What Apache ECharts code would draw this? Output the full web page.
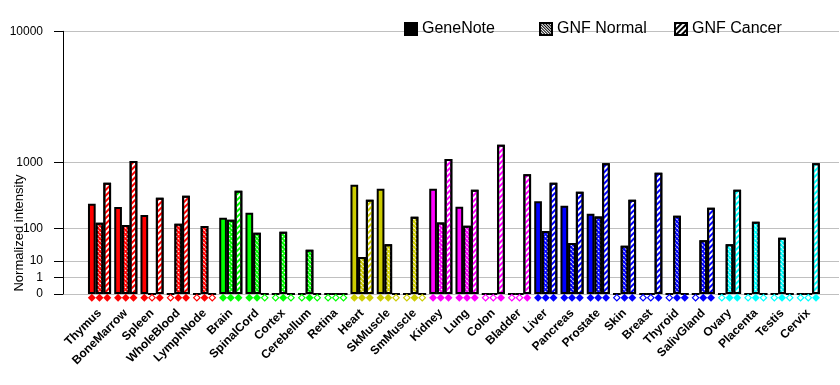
<!DOCTYPE html>
<html><head><meta charset="utf-8">
<script src="https://cdn.jsdelivr.net/npm/echarts@6/dist/echarts.min.js"></script>
<style>html,body{margin:0;padding:0;background:#fff}#c{width:840px;height:385px}</style>
</head><body><div id="c"></div>
<script>
// ---------- data ----------
const categories = ['Thymus','BoneMarrow','Spleen','WholeBlood','LymphNode','Brain','SpinalCord','Cortex','Cerebellum','Retina','Heart','SkMuscle','SmMuscle','Kidney','Lung','Colon','Bladder','Liver','Pancreas','Prostate','Skin','Breast','Thyroid','SalivGland','Ovary','Placenta','Testis','Cervix'];
const geneNote  = [287,254,184,0,0,164,203,0,0,0,542,479,0,479,257,0,0,316,267,195,0,0,0,0,0,0,0,0];
const gnfNormal = [131,118,0,125,112,150,79,84,27,0,15,40,171,133,114,0,0,87,43,174,36,0,179,51,40,137,60,0];
const gnfCancer = [575,1040,356,381,0,449,0,0,0,0,332,0,0,1093,464,1526,733,575,435,982,332,766,0,247,464,0,0,982];
// detection calls (1 = filled diamond, 0 = hollow)
const geneNoteCall  = [1,1,1,0,0,1,1,0,0,0,1,1,0,1,1,0,0,1,1,1,0,0,0,0,0,0,0,0];
const gnfNormalCall = [1,1,0,1,1,1,1,1,1,0,1,1,1,1,1,0,0,1,1,1,1,0,1,1,1,1,1,0];
const gnfCancerCall = [1,1,1,1,0,1,0,0,0,0,1,0,0,1,1,1,1,1,1,1,1,1,1,1,1,0,0,1];
const yTickValues = [0,1,10,100,1000,10000];
const yTickLabels = ['0','1','10','100','1000','10000'];
const seriesNames = ['GeneNote','GNF Normal','GNF Cancer'];

// ---------- style ----------
const RED='#FF0000', GRN='#00FF00', OLV='#CCCC00', MAG='#FF00FF', BLU='#0000FF', CYN='#00FFFF';
const catColors = [RED,RED,RED,RED,RED, GRN,GRN,GRN,GRN,GRN, OLV,OLV,OLV, MAG,MAG,MAG,MAG, BLU,BLU,BLU,BLU,BLU,BLU,BLU, CYN,CYN,CYN,CYN];
const FONT = "'Liberation Sans', Arial, sans-serif";
const HOLLOW = 'path://M4,0L8,4L4,8L0,4ZM4,1.6L1.6,4L4,6.4L6.4,4Z';

// power scale: 0->0, 1->1, 10->2, 100->4, ...
const tf = v => v <= 0 ? 0 : Math.pow(2, Math.log10(v));
const tickT = yTickValues.map(tf);

const normalDecal = c => ({symbol:'rect', symbolSize:1, dashArrayX:[2,1], dashArrayY:[1,2], rotation:Math.PI/4, color:c});
const normalLegendDecal = {symbol:'rect', symbolSize:1, dashArrayX:[1,0], dashArrayY:[1,1], rotation:Math.PI/4, color:'#000'};
const cancerDecal = c => ({symbol:'rect', symbolSize:1, dashArrayX:[1,0], dashArrayY:[2,2], rotation:-Math.PI/4, color:c});

const barCommon = {type:'bar', xAxisIndex:1, yAxisIndex:1, barGap:'0%', barCategoryGap:'12%', animation:false};

const sGN = Object.assign({}, barCommon, {
  name: seriesNames[0],
  itemStyle:{color:'#000', borderColor:'#000', borderWidth:2},
  data: geneNote.map((v,i)=>({value: tf(v), itemStyle:{color: catColors[i]}}))
});
const sN = Object.assign({}, barCommon, {
  name: seriesNames[1],
  itemStyle:{color:'#fff', borderColor:'#000', borderWidth:2, decal: normalLegendDecal},
  data: gnfNormal.map((v,i)=>({value: tf(v), itemStyle:{color: catColors[i], decal: normalDecal('#fff')}}))
});
const sC = Object.assign({}, barCommon, {
  name: seriesNames[2],
  itemStyle:{color:'#fff', borderColor:'#000', borderWidth:2, decal: cancerDecal('#000')},
  data: gnfCancer.map((v,i)=>({value: tf(v), itemStyle:{color:'#fff', decal: cancerDecal(catColors[i])}}))
});

function diamonds(calls){
  return {type:'pictorialBar', xAxisIndex:1, yAxisIndex:1, barGap:'0%', barCategoryGap:'12%',
    symbolSize:[8,8], symbolPosition:'center', silent:true, z:5, animation:false,
    data: calls.map((c,i)=>({value:-0.45, symbol: c ? 'diamond' : HOLLOW, itemStyle:{color: catColors[i]}}))};
}

const legendBase = {icon:'rect', itemWidth:12, itemHeight:12, top:16, selectedMode:false,
  textStyle:{fontSize:16, color:'#000', fontFamily:FONT}};

const chart = echarts.init(document.getElementById('c'), null, {renderer:'canvas'});
chart.setOption({
  animation:false,
  backgroundColor:'#fff',
  textStyle:{fontFamily:FONT},
  legend:[
    Object.assign({}, legendBase, {left:399, data:[seriesNames[0]]}),
    Object.assign({}, legendBase, {left:534, data:[seriesNames[1]]}),
    Object.assign({}, legendBase, {left:669, data:[seriesNames[2]]})
  ],
  grid:[
    {left:63, right:1, top:31.3, height:262.7},
    {left:86.4, right:18.6, top:31.3, height:262.7*16.5/16}
  ],
  xAxis:[
    {gridIndex:0, type:'value', min:0, max:1, show:false},
    {gridIndex:1, type:'category', data:categories,
     axisLine:{show:false}, axisTick:{show:false},
     axisLabel:{rotate:45, interval:0, margin:9, fontWeight:'bold', fontSize:12, color:'#000', fontFamily:FONT}}
  ],
  yAxis:[
    {gridIndex:0, type:'value', min:0, max:16,
     axisLine:{show:true, lineStyle:{color:'#000', width:1}},
     axisTick:{show:true, inside:false, length:9, customValues:tickT, lineStyle:{color:'#000', width:1}},
     axisLabel:{customValues:tickT, margin:20, fontSize:12, color:'#000', fontFamily:FONT,
       formatter: v => { const k = tickT.findIndex(t => Math.abs(t - v) < 1e-9); return k >= 0 ? yTickLabels[k] : ''; }},
     splitLine:{show:true, lineStyle:{color:'#c0c0c0', width:1}}},
    {gridIndex:1, type:'value', min:-0.5, max:16, show:false}
  ],
  graphic:[{type:'text', x:19, y:233, rotation:Math.PI/2,
    style:{text:'Normalized intensity', font:'13px ' + FONT, fill:'#000', textAlign:'center', textVerticalAlign:'middle'}}],
  series:[sGN, sN, sC, diamonds(geneNoteCall), diamonds(gnfNormalCall), diamonds(gnfCancerCall)]
});
</script></body></html>
